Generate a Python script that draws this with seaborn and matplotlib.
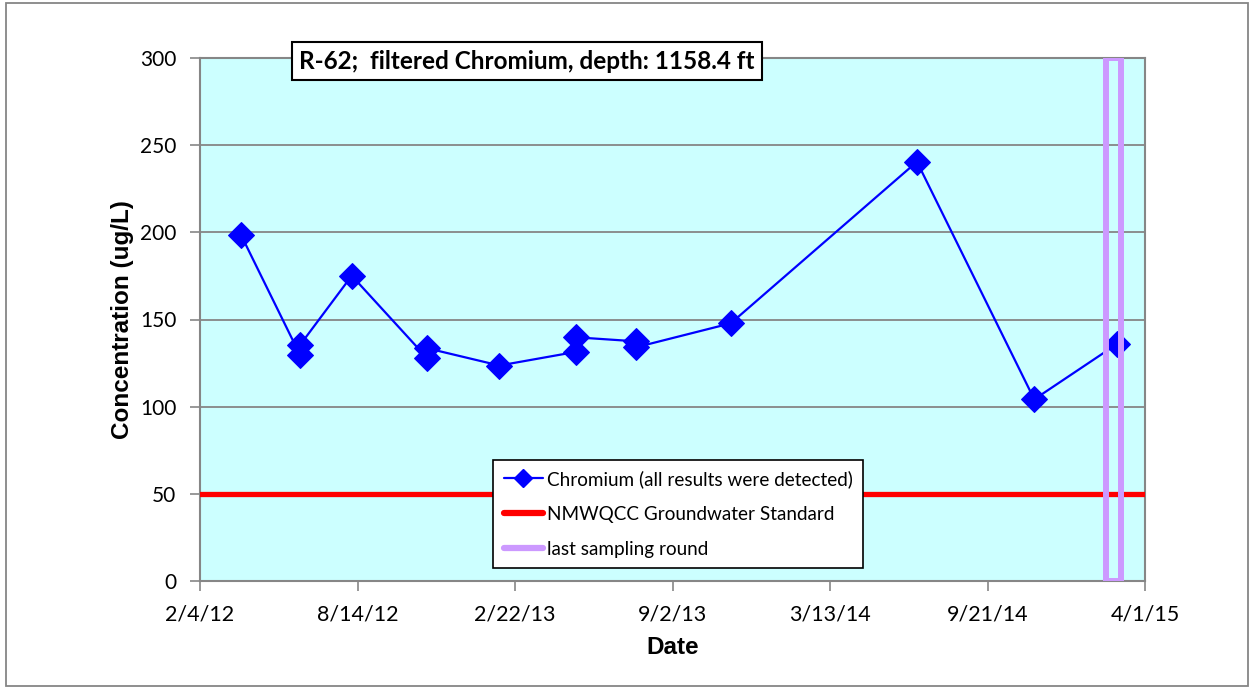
import matplotlib
matplotlib.use("Agg")
import matplotlib.pyplot as plt
import matplotlib.patches as mpatches
from matplotlib.lines import Line2D
import seaborn as sns
import pandas as pd

# ---- data ----
sample_dates = ["2012-03-25", "2012-06-05", "2012-06-05", "2012-08-07",
                "2012-11-07", "2012-11-07", "2013-02-03", "2013-05-07",
                "2013-05-07", "2013-07-19", "2013-07-19", "2013-11-12",
                "2014-06-27", "2014-11-17", "2015-02-26"]
chromium = [198.5, 129.6, 135.4, 175.1,
            127.8, 133.5, 123.6, 131.4,
            139.8, 137.5, 134.0, 147.8,
            240.5, 104.2, 136.0]

standard_dates = ["2012-02-04", "2015-04-01"]
standard_values = [50, 50]

last_round_dates = ["2015-02-13", "2015-02-13", "2015-03-03", "2015-03-03", "2015-02-13"]
last_round_values = [0, 300, 300, 0, 0]

tick_dates = ["2012-02-04", "2012-08-14", "2013-02-22", "2013-09-02",
              "2014-03-13", "2014-09-21", "2015-04-01"]
tick_labels = ["2/4/12", "8/14/12", "2/22/13", "9/2/13", "3/13/14", "9/21/14", "4/1/15"]
y_ticks = [0, 50, 100, 150, 200, 250, 300]

title_text = "R-62;  filtered Chromium, depth: 1158.4 ft"
series_labels = ["Chromium (all results were detected)",
                 "NMWQCC Groundwater Standard",
                 "last sampling round"]

# ---- styling ----
sns.set_style("white")
plt.rcParams['font.family'] = ['Lato', 'DejaVu Sans']
plt.rcParams['text.color'] = 'black'
plt.rcParams['axes.labelcolor'] = 'black'
plt.rcParams['xtick.color'] = 'black'
plt.rcParams['ytick.color'] = 'black'

fig = plt.figure(figsize=(12.51, 6.88), dpi=100)
ax = fig.add_axes([200 / 1251, 1 - 581 / 688, 945 / 1251, 523 / 688])
ax.set_facecolor("#CCFFFF")

df = pd.DataFrame({"date": pd.to_datetime(sample_dates), "value": chromium})
std = pd.DataFrame({"date": pd.to_datetime(standard_dates), "value": standard_values})
last = pd.DataFrame({"date": pd.to_datetime(last_round_dates), "value": last_round_values})

sns.lineplot(data=std, x="date", y="value", color="#FF0000", linewidth=3.8,
             sort=False, estimator=None, ax=ax, zorder=3, legend=False)
sns.lineplot(data=df, x="date", y="value", color="#0000FF", linewidth=1.6,
             marker="D", markersize=13, markeredgecolor="#0000FF",
             sort=False, estimator=None, ax=ax, zorder=4, legend=False)
sns.lineplot(data=last, x="date", y="value", color="#CC99FF", linewidth=4.3,
             sort=False, estimator=None, ax=ax, zorder=5, legend=False)

ax.set_xlim(pd.to_datetime(tick_dates[0]), pd.to_datetime(tick_dates[-1]))
ax.set_ylim(0, 300)
ax.set_xticks(pd.to_datetime(tick_dates))
ax.set_xticklabels(tick_labels, fontsize=15.5)
ax.set_yticks(y_ticks)
ax.set_yticklabels([str(v) for v in y_ticks], fontsize=15)
ax.tick_params(axis="both", direction="out", length=7, width=1.2, color="#868686",
               labelcolor="black", bottom=True, left=True, pad=10)
ax.grid(axis="y", color="#868686", linewidth=1.3)
ax.grid(axis="x", visible=False)
for s in ax.spines.values():
    s.set_color("#868686")
    s.set_linewidth(1.5)

ax.set_xlabel("Date", fontsize=17.5, fontweight="bold", family="Liberation Sans",
              labelpad=8, color="black")
ax.set_ylabel("Concentration (ug/L)", fontsize=17.5, fontweight="bold",
              family="Liberation Sans", labelpad=4, color="black")

ax.text(0.346, 0.994, title_text, transform=ax.transAxes, ha="center", va="center",
        fontsize=17.5, fontweight="bold", zorder=10, color="black",
        bbox=dict(boxstyle="square,pad=0.3", facecolor="white", edgecolor="black", linewidth=1.5))

handles = [
    Line2D([], [], color="#0000FF", linewidth=1.6, marker="D", markersize=9),
    Line2D([], [], color="#FF0000", linewidth=4.5),
    Line2D([], [], color="#CC99FF", linewidth=4.5),
]
leg = ax.legend(handles, series_labels, loc="center", bbox_to_anchor=(0.506, 0.128),
                fontsize=13.6, frameon=True, fancybox=False, framealpha=1,
                edgecolor="black", handlelength=2.1, handletextpad=0.2,
                labelspacing=0.95, borderpad=0.55)
leg.get_frame().set_linewidth(1.2)
leg.set_zorder(20)
for t in leg.get_texts():
    t.set_color("black")

fig.patches.append(mpatches.Rectangle((6 / 1251, 2 / 688), 1242 / 1251, 683 / 688,
                                      transform=fig.transFigure, fill=False,
                                      edgecolor="#868686", linewidth=1.3))

fig.savefig("out.png", dpi=100)
